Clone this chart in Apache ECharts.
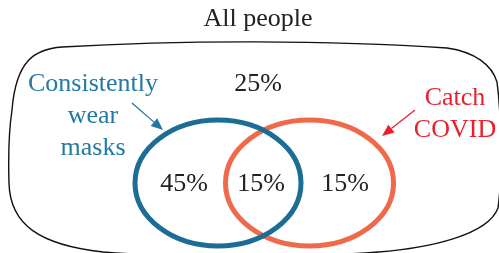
<!DOCTYPE html>
<html>
<head>
<meta charset="utf-8">
<script src="https://cdn.jsdelivr.net/npm/echarts@6/dist/echarts.min.js"></script>
<style>
html, body { margin: 0; padding: 0; background: #fff; }
#main { width: 499px; height: 253px; }
</style>
</head>
<body>
<div id="main"></div>
<script>
// values
const universe = 'All people';
const setNames = ['Consistently\nwear\nmasks', 'Catch\nCOVID'];
const regionNames = ['neither', 'masks only', 'both', 'covid only'];
const shares = [25, 45, 15, 15];

// layout, in chart units (x 0..499, y 0..253 from top)
const setShapes = [[218, 183, 83, 63], [309.5, 183, 84, 63]];   // cx, cy, rx, ry
const setColors = ['#1b6d96', '#ee6a4b'];
const setTextColors = ['#2479a3', '#e8202e'];
const setTextPos = [[93, 116], [455, 114]];
const arrows = [[132, 103, 163, 130], [415, 110, 382, 136]];
const regionPos = [[258, 84], [184, 184], [261, 184], [345, 184]];
const titlePos = [258, 19];
// boundary: start point, then cubic segments [c1, c2, end]
const outlineStart = [62, 47];
const outlineSegs = [
  [[180, 40], [330, 40], [447, 48]],
  [[475, 52], [492, 65], [497, 82]],
  [[502, 120], [502, 180], [498, 208]],
  [[488, 235], [430, 248], [378, 252]],
  [[300, 258], [180, 258], [103, 252]],
  [[40, 245], [10, 225], [9, 183]],
  [[8, 150], [9, 130], [12, 110]],
  [[16, 60], [35, 49], [62, 47]]
];

const FONT_FAMILY = 'Liberation Serif';

let myChart = echarts.init(document.getElementById('main'));

let option = {
  animation: false,
  grid: { left: 0, right: 0, top: 0, bottom: 0 },
  xAxis: { type: 'value', min: 0, max: 499, show: false },
  yAxis: { type: 'value', min: 0, max: 253, inverse: true, show: false },
  series: [
    {
      // outer "all people" boundary
      type: 'custom',
      clip: false,
      data: [0],
      renderItem: function (params, api) {
        let s = api.coord(outlineStart);
        let d = 'M' + s[0] + ',' + s[1];
        outlineSegs.forEach(function (seg) {
          let pts = seg.map(p => api.coord(p));
          d += ' C' + pts.map(p => p[0] + ',' + p[1]).join(' ');
        });
        d += ' Z';
        return {
          type: 'path',
          shape: { pathData: d },
          style: { fill: 'none', stroke: '#111', lineWidth: 1.4 }
        };
      }
    },
    {
      // the two sets, drawn orange first so blue sits on top
      type: 'custom',
      clip: false,
      data: [1, 0],
      renderItem: function (params, api) {
        let i = api.value(0);
        let s = setShapes[i];
        let c = api.coord([s[0], s[1]]);
        let r = api.size([s[2], s[3]]);
        return {
          type: 'ellipse',
          shape: { cx: c[0], cy: c[1], rx: r[0], ry: r[1] },
          style: { fill: 'none', stroke: setColors[i], lineWidth: 5 }
        };
      }
    },
    {
      // arrows from set names to their ellipses
      type: 'custom',
      data: [0, 1],
      renderItem: function (params, api) {
        let i = api.value(0);
        let a = arrows[i];
        let p0 = api.coord([a[0], a[1]]);
        let p1 = api.coord([a[2], a[3]]);
        let dx = p1[0] - p0[0], dy = p1[1] - p0[1];
        let len = Math.sqrt(dx * dx + dy * dy);
        let ux = dx / len, uy = dy / len;
        let hl = 12, hw = 5;
        let bx = p1[0] - ux * hl, by = p1[1] - uy * hl;
        return {
          type: 'group',
          children: [
            {
              type: 'line',
              shape: { x1: p0[0], y1: p0[1], x2: bx, y2: by },
              style: { stroke: setTextColors[i], lineWidth: 1.3 }
            },
            {
              type: 'polygon',
              shape: { points: [p1, [bx - uy * hw, by + ux * hw], [bx + uy * hw, by - ux * hw]] },
              style: { fill: setTextColors[i] }
            }
          ]
        };
      }
    }
  ]
};

myChart.setOption(option, true);

// text placed through the grid's scales
function textAt(pos, text, color) {
  let p = myChart.convertToPixel({ gridIndex: 0 }, pos);
  return {
    type: 'text',
    x: p[0],
    y: p[1],
    silent: true,
    style: {
      text: text, fontFamily: FONT_FAMILY, fontSize: 26, lineHeight: 32,
      fill: color, align: 'center', verticalAlign: 'middle'
    }
  };
}

let labels = [textAt(titlePos, universe, '#222')];
shares.forEach(function (v, i) {
  labels.push(textAt(regionPos[i], v + '%', '#222'));
});
setNames.forEach(function (n, i) {
  labels.push(textAt(setTextPos[i], n, setTextColors[i]));
});

myChart.setOption({ graphic: labels });
</script>
</body>
</html>
